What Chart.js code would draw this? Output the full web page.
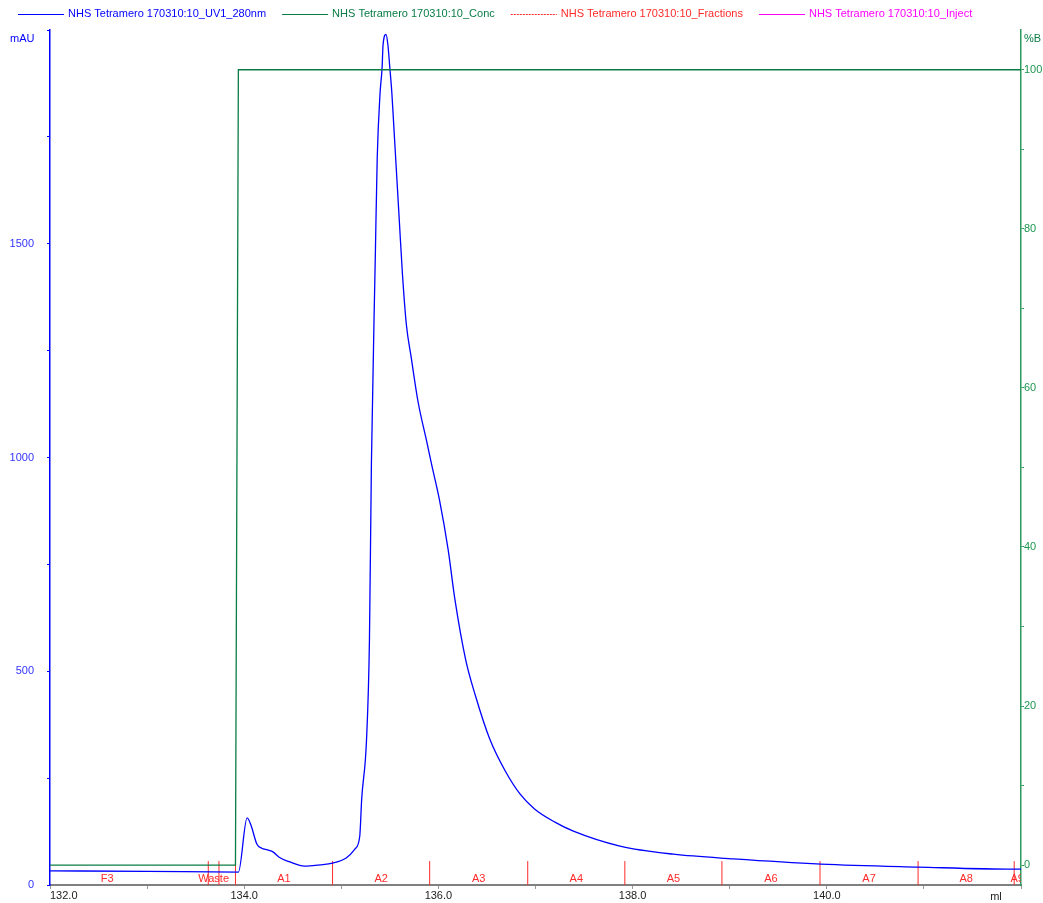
<!DOCTYPE html>
<html>
<head>
<meta charset="utf-8">
<script src="https://cdn.jsdelivr.net/npm/chart.js@4.4.1/dist/chart.umd.min.js"></script>
<style>
html, body { margin: 0; padding: 0; background: #fff; }
#wrap { width: 1043px; height: 903px; }
</style>
</head>
<body>
<div id="wrap"><canvas id="myChart"></canvas></div>
<script>
// UV1_280nm trace
const uvMl  = [132.0, 133.0, 133.94, 134.03, 134.07, 134.13, 134.18, 134.24, 134.30, 134.36, 134.47, 134.62, 134.78, 134.91, 135.05, 135.14, 135.19, 135.21, 135.26, 135.29, 135.31, 135.35, 135.37, 135.40, 135.42, 135.43, 135.46, 135.48, 135.50, 135.52, 135.54, 135.57, 135.60, 135.63, 135.67, 135.72, 135.79, 135.88, 135.93, 136.01, 136.10, 136.17, 136.28, 136.38, 136.53, 136.69, 136.84, 136.99, 137.20, 137.39, 137.87, 138.42, 139.04, 139.94, 140.94, 141.93, 142.0];
const uvMau = [33, 32, 30, 157, 140, 96, 86, 82, 77, 65, 54, 44, 47, 51, 63, 84, 114, 201, 341, 575, 984, 1467, 1701, 1855, 1911, 1965, 1990, 1965, 1911, 1855, 1778, 1661, 1544, 1428, 1311, 1234, 1131, 1037, 984, 902, 785, 668, 528, 444, 341, 266, 213, 178, 147, 126, 91, 72, 61, 49, 42, 37, 37];

// Conc (%B)
const concMl  = [132.0, 133.91, 133.94, 142.0];
const concPct = [0, 0, 100, 100];

// fraction starts and names (last value = end of run)
const fracMl     = [131.55, 133.63, 133.74, 133.91, 134.91, 135.91, 136.92, 137.92, 138.92, 139.93, 140.94, 141.93, 141.99];
const fracLabels = ['F3', 'Waste', '', 'A1', 'A2', 'A3', 'A4', 'A5', 'A6', 'A7', 'A8', 'A9'];
const fracMarkHeight = 56; // mAU

const names = ['NHS Tetramero 170310:10_UV1_280nm', 'NHS Tetramero 170310:10_Conc', 'NHS Tetramero 170310:10_Fractions', 'NHS Tetramero 170310:10_Inject'];

const blue = '#0000ff';
const green = '#0a7d45';
const red = '#ff2a2a';
const magenta = '#ff00ff';

const FONT = 'Liberation Sans, Arial, sans-serif';
Chart.defaults.font.family = FONT;
Chart.defaults.font.size = 11;

var uvPts = [];
for (let i = 0; i < uvMl.length; i++) uvPts.push({x: uvMl[i], y: uvMau[i]});
var concPts = [];
for (let i = 0; i < concMl.length; i++) concPts.push({x: concMl[i], y: concPct[i]});
var fracPts = [];
for (let i = 1; i < fracMl.length - 1; i++) {
    fracPts.push({x: fracMl[i], y: 0});
    fracPts.push({x: fracMl[i], y: fracMarkHeight});
    fracPts.push({x: fracMl[i], y: null});
}

const extras = {
    id: 'extras',
    afterDraw(chart) {
        const ctx = chart.ctx;
        const area = chart.chartArea;
        const xs = chart.scales.x;
        ctx.save();
        ctx.font = '11px ' + FONT;
        ctx.textBaseline = 'middle';

        // legend
        let lx = 18;
        const ly = 14;
        chart.data.datasets.forEach((ds, i) => {
            ctx.save();
            ctx.strokeStyle = ds.borderColor;
            ctx.lineWidth = 1;
            if (i === 2) ctx.setLineDash([2, 1]);
            ctx.beginPath();
            ctx.moveTo(lx, ly + 0.5);
            ctx.lineTo(lx + 46, ly + 0.5);
            ctx.stroke();
            ctx.restore();
            ctx.fillStyle = ds.borderColor;
            ctx.textAlign = 'left';
            ctx.fillText(ds.label, lx + 50, ly);
            lx += 50 + ctx.measureText(ds.label).width + 16;
        });

        // axis titles
        ctx.fillStyle = blue;
        ctx.textAlign = 'left';
        ctx.fillText('mAU', 10, 39);
        ctx.fillStyle = green;
        ctx.fillText('%B', 1024, 39);
        ctx.fillStyle = '#222';
        ctx.textAlign = 'center';
        ctx.fillText('ml', 996, 897);

        // fraction names
        ctx.beginPath();
        ctx.rect(area.left, area.top, area.right - area.left, area.bottom - area.top);
        ctx.clip();
        ctx.fillStyle = red;
        for (let i = 0; i < fracLabels.length; i++) {
            const mid = (fracMl[i] + fracMl[i + 1]) / 2;
            ctx.fillText(fracLabels[i], xs.getPixelForValue(mid), area.bottom - 6);
        }
        ctx.restore();
    }
};

const config = {
    type: 'line',
    data: {
        datasets: [{
            label: names[0],
            data: uvPts,
            borderColor: blue,
            borderWidth: 1.3,
            pointRadius: 0,
            cubicInterpolationMode: 'monotone',
            yAxisID: 'y',
            order: 1
        }, {
            label: names[1],
            data: concPts,
            borderColor: green,
            borderWidth: 1.3,
            pointRadius: 0,
            tension: 0,
            yAxisID: 'y2',
            order: 0
        }, {
            label: names[2],
            data: fracPts,
            borderColor: red,
            borderWidth: 1,
            pointRadius: 0,
            spanGaps: false,
            yAxisID: 'y',
            order: 2
        }, {
            label: names[3],
            data: [],
            borderColor: magenta,
            borderWidth: 1,
            pointRadius: 0,
            yAxisID: 'y',
            order: 3
        }]
    },
    options: {
        animation: false,
        responsive: true,
        maintainAspectRatio: false,
        layout: { padding: { top: 30, left: 0, right: 0, bottom: 0 } },
        plugins: {
            legend: { display: false },
            tooltip: { enabled: false }
        },
        scales: {
            x: {
                type: 'linear',
                min: 132,
                max: 142,
                afterFit: function (s) { s.height = 18; },
                border: { display: true, color: '#808080', width: 2 },
                grid: { drawOnChartArea: false, drawTicks: true, tickLength: 4, color: '#999' },
                ticks: {
                    stepSize: 1,
                    autoSkip: false,
                    maxRotation: 0,
                    align: 'inner',
                    padding: 0,
                    color: '#222',
                    callback: function (v) { return (v % 2 === 0 && v < 142) ? v.toFixed(1) : ''; }
                }
            },
            y: {
                type: 'linear',
                position: 'left',
                min: 0,
                max: 2000,
                afterFit: function (s) { s.width = 50; s.paddingBottom = 0; s.paddingTop = 0; },
                border: { display: true, color: blue, width: 1.5 },
                grid: { drawOnChartArea: false, drawTicks: true, tickLength: 3, color: blue },
                ticks: {
                    stepSize: 250,
                    autoSkip: false,
                    padding: 13,
                    color: '#3333ff',
                    callback: function (v) { return (v % 500 === 0 && v < 2000) ? String(v) : ''; }
                }
            },
            y2: {
                type: 'linear',
                position: 'right',
                min: -2.5,
                max: 105,
                afterFit: function (s) { s.width = 22; s.paddingBottom = 0; s.paddingTop = 0; },
                border: { display: true, color: '#2e9a5e', width: 1.5 },
                grid: { drawOnChartArea: false, drawTicks: true, tickLength: 3, color: '#2e9a5e' },
                ticks: {
                    stepSize: 10,
                    includeBounds: false,
                    autoSkip: false,
                    padding: 0,
                    color: '#1e9650',
                    callback: function (v) { return (v % 20 === 0) ? String(v) : ''; }
                }
            }
        }
    },
    plugins: [extras]
};

var myChart = new Chart(document.getElementById('myChart'), config);
</script>
</body>
</html>
